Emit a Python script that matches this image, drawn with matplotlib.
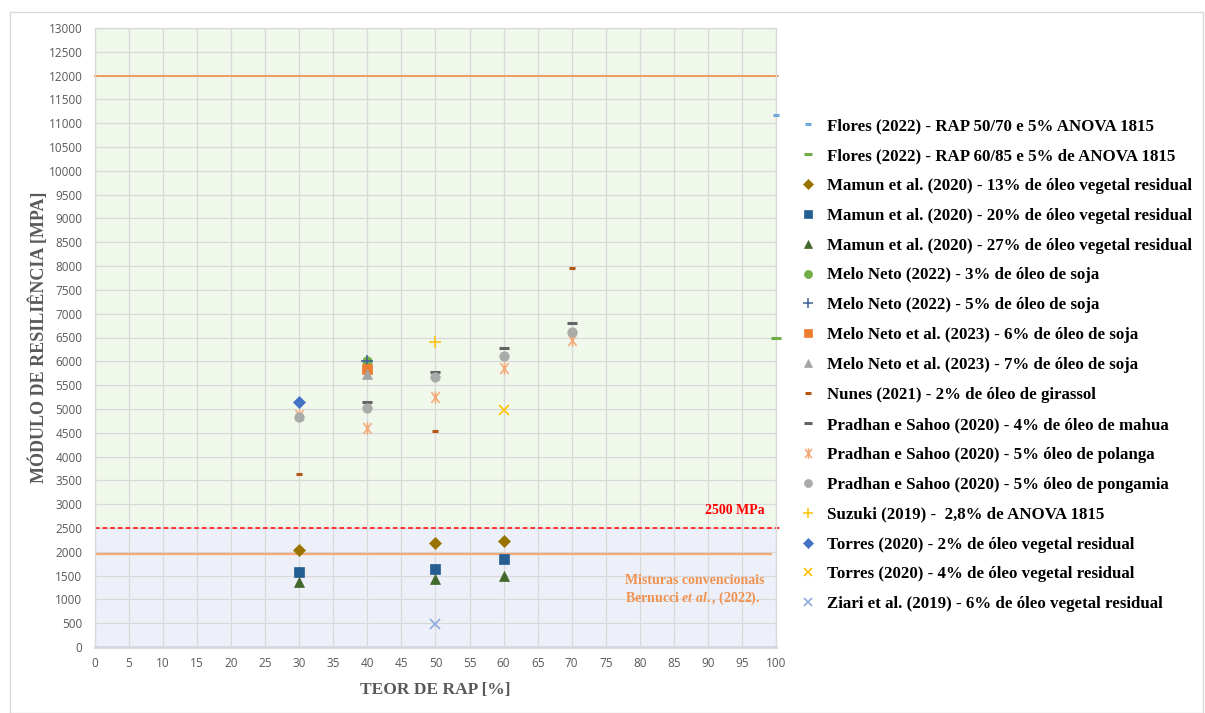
import numpy as np
import matplotlib.pyplot as plt
from matplotlib.path import Path
from matplotlib.patches import Rectangle

plt.rcParams['font.family'] = ['Liberation Serif', 'DejaVu Serif']
plt.rcParams['mathtext.fontset'] = 'custom'
plt.rcParams['mathtext.rm'] = 'Liberation Serif:bold'
plt.rcParams['mathtext.it'] = 'Liberation Serif:italic:bold'

# ========== dados: teor de RAP [%] x módulo de resiliência [MPa] ==========
flores_5070_x = [100]
flores_5070_y = [11180]
flores_6085_x = [100]
flores_6085_y = [6480]

mamun_x = [30, 50, 60]
mamun13_y = [2030, 2180, 2220]
mamun20_y = [1570, 1640, 1840]
mamun27_y = [1360, 1420, 1490]

melo3_x = [40]
melo3_y = [6010]
melo5_x = [40]
melo5_y = [6000]
melo6_x = [40]
melo6_y = [5840]
melo7_x = [40]
melo7_y = [5730]

nunes_x = [30, 50, 70]
nunes_y = [3640, 4530, 7970]

pradhan_mahua_x = [40, 50, 60, 70]
pradhan_mahua_y = [5140, 5770, 6270, 6800]
pradhan_x = [30, 40, 50, 60, 70]
pradhan_polanga_y = [4870, 4600, 5240, 5850, 6440]
pradhan_pongamia_y = [4820, 5010, 5660, 6120, 6610]

suzuki_x = [50]
suzuki_y = [6400]
torres2_x = [30]
torres2_y = [5150]
torres4_x = [60]
torres4_y = [4980]
ziari_x = [50]
ziari_y = [480]

limite_mr = 2500          # linha tracejada
convencional = [1950, 12000]  # faixa das misturas convencionais

# marcador "estrela" do Excel: x com traço vertical
asterisco = Path([(-0.75, -1), (0.75, 1), (-0.75, 1), (0.75, -1), (0, -1.15), (0, 1.15)],
                 [Path.MOVETO, Path.LINETO, Path.MOVETO, Path.LINETO, Path.MOVETO, Path.LINETO])

series = [
    (flores_5070_x, flores_5070_y, "Flores (2022) - RAP 50/70 e 5% ANOVA 1815",
     dict(marker='_', color='#6FA8DC', ms=5, mew=2.2)),
    (flores_6085_x, flores_6085_y, "Flores (2022) - RAP 60/85 e 5% de ANOVA 1815",
     dict(marker='_', color='#70AD47', ms=7, mew=2.2)),
    (mamun_x, mamun13_y, "Mamun et al. (2020) - 13% de óleo vegetal residual",
     dict(marker='D', color='#997300', ms=5.8, mew=0.5)),
    (mamun_x, mamun20_y, "Mamun et al. (2020) - 20% de óleo vegetal residual",
     dict(marker='s', color='#255E91', ms=6.6, mew=0.5)),
    (mamun_x, mamun27_y, "Mamun et al. (2020) - 27% de óleo vegetal residual",
     dict(marker='^', color='#43682B', ms=7.4, mew=0.5)),
    (melo3_x, melo3_y, "Melo Neto (2022) - 3% de óleo de soja",
     dict(marker='o', color='#70AD47', ms=6.8, mew=0.5)),
    (melo5_x, melo5_y, "Melo Neto (2022) - 5% de óleo de soja",
     dict(marker='+', color='#44609A', ms=8, mew=1.1)),
    (melo6_x, melo6_y, "Melo Neto et al. (2023) - 6% de óleo de soja",
     dict(marker='s', color='#ED7D31', ms=6.6, mew=0.5)),
    (melo7_x, melo7_y, "Melo Neto et al. (2023) - 7% de óleo de soja",
     dict(marker='^', color='#A5A5A5', ms=7.4, mew=0.5)),
    (nunes_x, nunes_y, "Nunes (2021) - 2% de óleo de girassol",
     dict(marker='_', color='#B4560F', ms=4.5, mew=2.2)),
    (pradhan_mahua_x, pradhan_mahua_y, "Pradhan e Sahoo (2020) - 4% de óleo de mahua",
     dict(marker='_', color='#636363', ms=6.5, mew=2.2)),
    (pradhan_x, pradhan_polanga_y, "Pradhan e Sahoo (2020) - 5% óleo de polanga",
     dict(marker=asterisco, color='#F4A877', ms=9, mew=1.1)),
    (pradhan_x, pradhan_pongamia_y, "Pradhan e Sahoo (2020) - 5% óleo de pongamia",
     dict(marker='o', color='#A9ABA8', ms=6.8, mew=0.5)),
    (suzuki_x, suzuki_y, "Suzuki (2019) -  2,8% de ANOVA 1815",
     dict(marker='+', color='#FFC000', ms=8, mew=1.1)),
    (torres2_x, torres2_y, "Torres (2020) - 2% de óleo vegetal residual",
     dict(marker='D', color='#4472C4', ms=5.8, mew=0.5)),
    (torres4_x, torres4_y, "Torres (2020) - 4% de óleo vegetal residual",
     dict(marker='x', color='#FFC000', ms=7.5, mew=1.2)),
    (ziari_x, ziari_y, "Ziari et al. (2019) - 6% de óleo vegetal residual",
     dict(marker='x', color='#8FAADC', ms=7.5, mew=1.2)),
]

fig = plt.figure(figsize=(12.05, 7.13), dpi=100)
W, H = 1205, 713
ax = fig.add_axes([95 / W, 1 - 647 / H, (776 - 95) / W, (647 - 28) / H])

# moldura da área do gráfico
fig.patches.append(Rectangle((10 / W, 0), 1193 / W, 1 - 12 / H, transform=fig.transFigure,
                             fill=False, edgecolor='#D9D9D9', linewidth=1))

ax.set_xlim(0, 100)
ax.set_ylim(0, 13000)
ax.axhspan(limite_mr, 13000, color='#F0F7EB', zorder=0)
ax.axhspan(0, limite_mr, color='#EDF0F8', zorder=0)

ax.set_xticks(np.arange(0, 101, 5))
ax.set_yticks(np.arange(0, 13001, 500))
ax.grid(True, color='#D9D9D9', linewidth=0.9, zorder=1)
ax.set_axisbelow(True)
for s in ax.spines.values():
    s.set_color('#D9D9D9')
    s.set_linewidth(0.9)
ax.spines['bottom'].set_color('#D3D8E2')
ax.spines['bottom'].set_linewidth(2)
ax.tick_params(length=0, labelsize=8.5, labelcolor='#595959')
for lab in ax.get_xticklabels() + ax.get_yticklabels():
    lab.set_family('Open Sans')
ax.tick_params(axis='y', pad=9)
ax.tick_params(axis='x', pad=7)

# linhas de referência
ax.axhline(convencional[1], xmin=0, xmax=1.003, color='#F29B60', linewidth=1.4, clip_on=False, zorder=2)
ax.axhline(convencional[0], xmin=0, xmax=0.993, color='#F4A97A', linewidth=1.6, zorder=2)
ax.axhline(limite_mr, xmin=0, xmax=1.006, color='#FF0000', linewidth=1.1,
           linestyle=(0, (3, 2)), clip_on=False, zorder=2)

for x, y, nome, estilo in series:
    ax.plot(x, y, linestyle='none', label=nome, zorder=3, clip_on=False, **estilo)

ax.text(98.4, 2860, "2500 MPa", color='#FF0000', fontsize=10, fontweight='bold',
        ha='right', va='center')
ax.text(77.9, 1400, "Misturas convencionais", color='#F0924F', fontsize=10,
        fontweight='bold', ha='left', va='center')
ax.text(77.9, 1015, r"Bernucci $\mathit{et\ al.}$, (2022).", color='#F0924F', fontsize=10,
        fontweight='bold', ha='left', va='center')

ax.set_xlabel("TEOR DE RAP [%]", fontsize=12.5, fontweight='bold', color='#595959')
ax.xaxis.set_label_coords(0.5, -0.056)
ax.set_ylabel("MÓDULO DE RESILIÊNCIA [MPA]", fontsize=13, fontweight='bold', color='#595959')
ax.yaxis.set_label_coords(-0.069, 0.5)

leg = ax.legend(loc='upper left', bbox_to_anchor=(801 / W, 1 - 118 / H),
                bbox_transform=fig.transFigure, frameon=False,
                prop={'family': 'Liberation Serif', 'weight': 'bold', 'size': 12.2},
                handlelength=0.8, handletextpad=0.75, labelspacing=0.82,
                borderpad=0, borderaxespad=0, markerscale=0.85)

fig.savefig("out.png", dpi=100, facecolor='white')
